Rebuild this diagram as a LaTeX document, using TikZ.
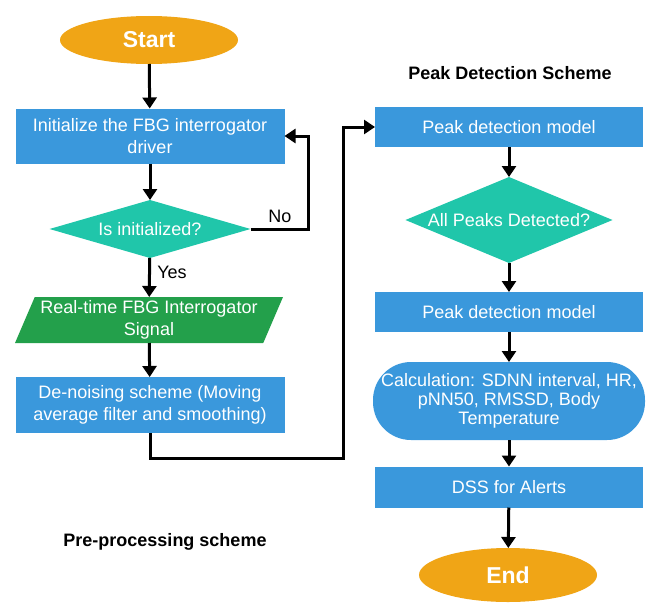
\documentclass[tikz,border=0pt]{standalone}
\usepackage{fontspec}
\setmainfont{Liberation Sans}
\usepackage{tikz}
\usetikzlibrary{shapes.geometric,arrows.meta,positioning,calc}
\definecolor{fcorange}{RGB}{240,165,22}
\definecolor{fcblue}{RGB}{58,152,220}
\definecolor{fcteal}{RGB}{32,198,170}
\definecolor{fcgreen}{RGB}{35,160,75}
\tikzset{
	flow chart/.style={
		x=1pt, y=-1pt,
		font=\fontsize{18}{22}\selectfont,
		every node/.style={inner sep=0pt, outer sep=0pt, align=center}},
	term/.style={ellipse, fill=fcorange, text=white,
		font=\fontsize{23}{26}\selectfont\bfseries,
		minimum width=178pt, minimum height=48pt},
	proc/.style={rectangle, fill=fcblue, text=white, minimum width=269pt},
	decide/.style={diamond, fill=fcteal, text=white, aspect=3.4},
	io/.style={trapezium, trapezium left angle=63, trapezium right angle=117,
		trapezium stretches body, fill=fcgreen, text=white,
		minimum width=268pt, minimum height=46pt},
	calc box/.style={rectangle, rounded corners=38pt, fill=fcblue, text=white,
		minimum width=272pt, minimum height=78pt,
		font=\fontsize{18}{19}\selectfont},
	heading/.style={font=\fontsize{18}{22}\selectfont\bfseries},
	arr/.style={draw, line width=3pt, -{Triangle[width=14pt,length=11pt]}},
	wire/.style={draw, line width=3pt}
}

\begin{document}
\begin{tikzpicture}[flow chart]
  \useasboundingbox (0,0) rectangle (652,602);
  % pre-processing column
  \node[term] (start) at (149,40) {Start};
  \node[proc, minimum height=55pt] (init) at (150,136) {Initialize the FBG interrogator\\driver};
  \node[decide, minimum width=201pt, minimum height=58pt] (isinit) at (150,229) {Is initialized?};
  \node[io] (signal) at (149,320) {Real-time FBG Interrogator\\Signal};
  \node[proc, minimum height=56pt] (denoise) at (150,405) {De-noising scheme (Moving\\average filter and smoothing)};
  \node[heading] (pretitle) at (165,542) {Pre-processing scheme};
  % peak detection column
  \node[heading] (peaktitle) at (510,73) {Peak Detection Scheme};
  \node[proc, minimum width=268pt, minimum height=40pt] (peak1) at (509,127) {Peak detection model};
  \node[decide, minimum width=203pt, minimum height=86pt] (allpeaks) at (509,220) {All Peaks Detected?};
  \node[proc, minimum width=268pt, minimum height=40pt] (peak2) at (509,312) {Peak detection model};
  \node[calc box] (calc) at (509,401) {Calculation: SDNN interval, HR,\\pNN50, RMSSD, Body\\Temperature};
  \node[proc, minimum width=268pt, minimum height=41pt] (dss) at (509,487) {DSS for Alerts};
  \node[term, minimum height=54pt] (end) at (508,575) {End};

  \coordinate (noturn) at (308,229);
  \coordinate (bend) at (343,458);

  \draw[arr] (start) -- (init);
  \draw[arr] (init) -- (isinit);
  \draw[arr] (isinit.east) -- (noturn) |- (init.east);
  \draw[arr] (isinit) -- (signal);
  \draw[arr] (signal) -- (denoise);
  \draw[arr] (denoise.south) |- (bend) |- (peak1.west);
  \draw[arr] (peak1) -- (allpeaks);
  \draw[arr] (allpeaks) -- (peak2);
  \draw[arr] (peak2) -- (calc);
  \draw[arr] (calc) -- (dss);
  \draw[arr] (dss) -- (end);

  \node (nolabel) at (280,216) {No};
  \node (yeslabel) at (172,272) {Yes};
\end{tikzpicture}
\end{document}
